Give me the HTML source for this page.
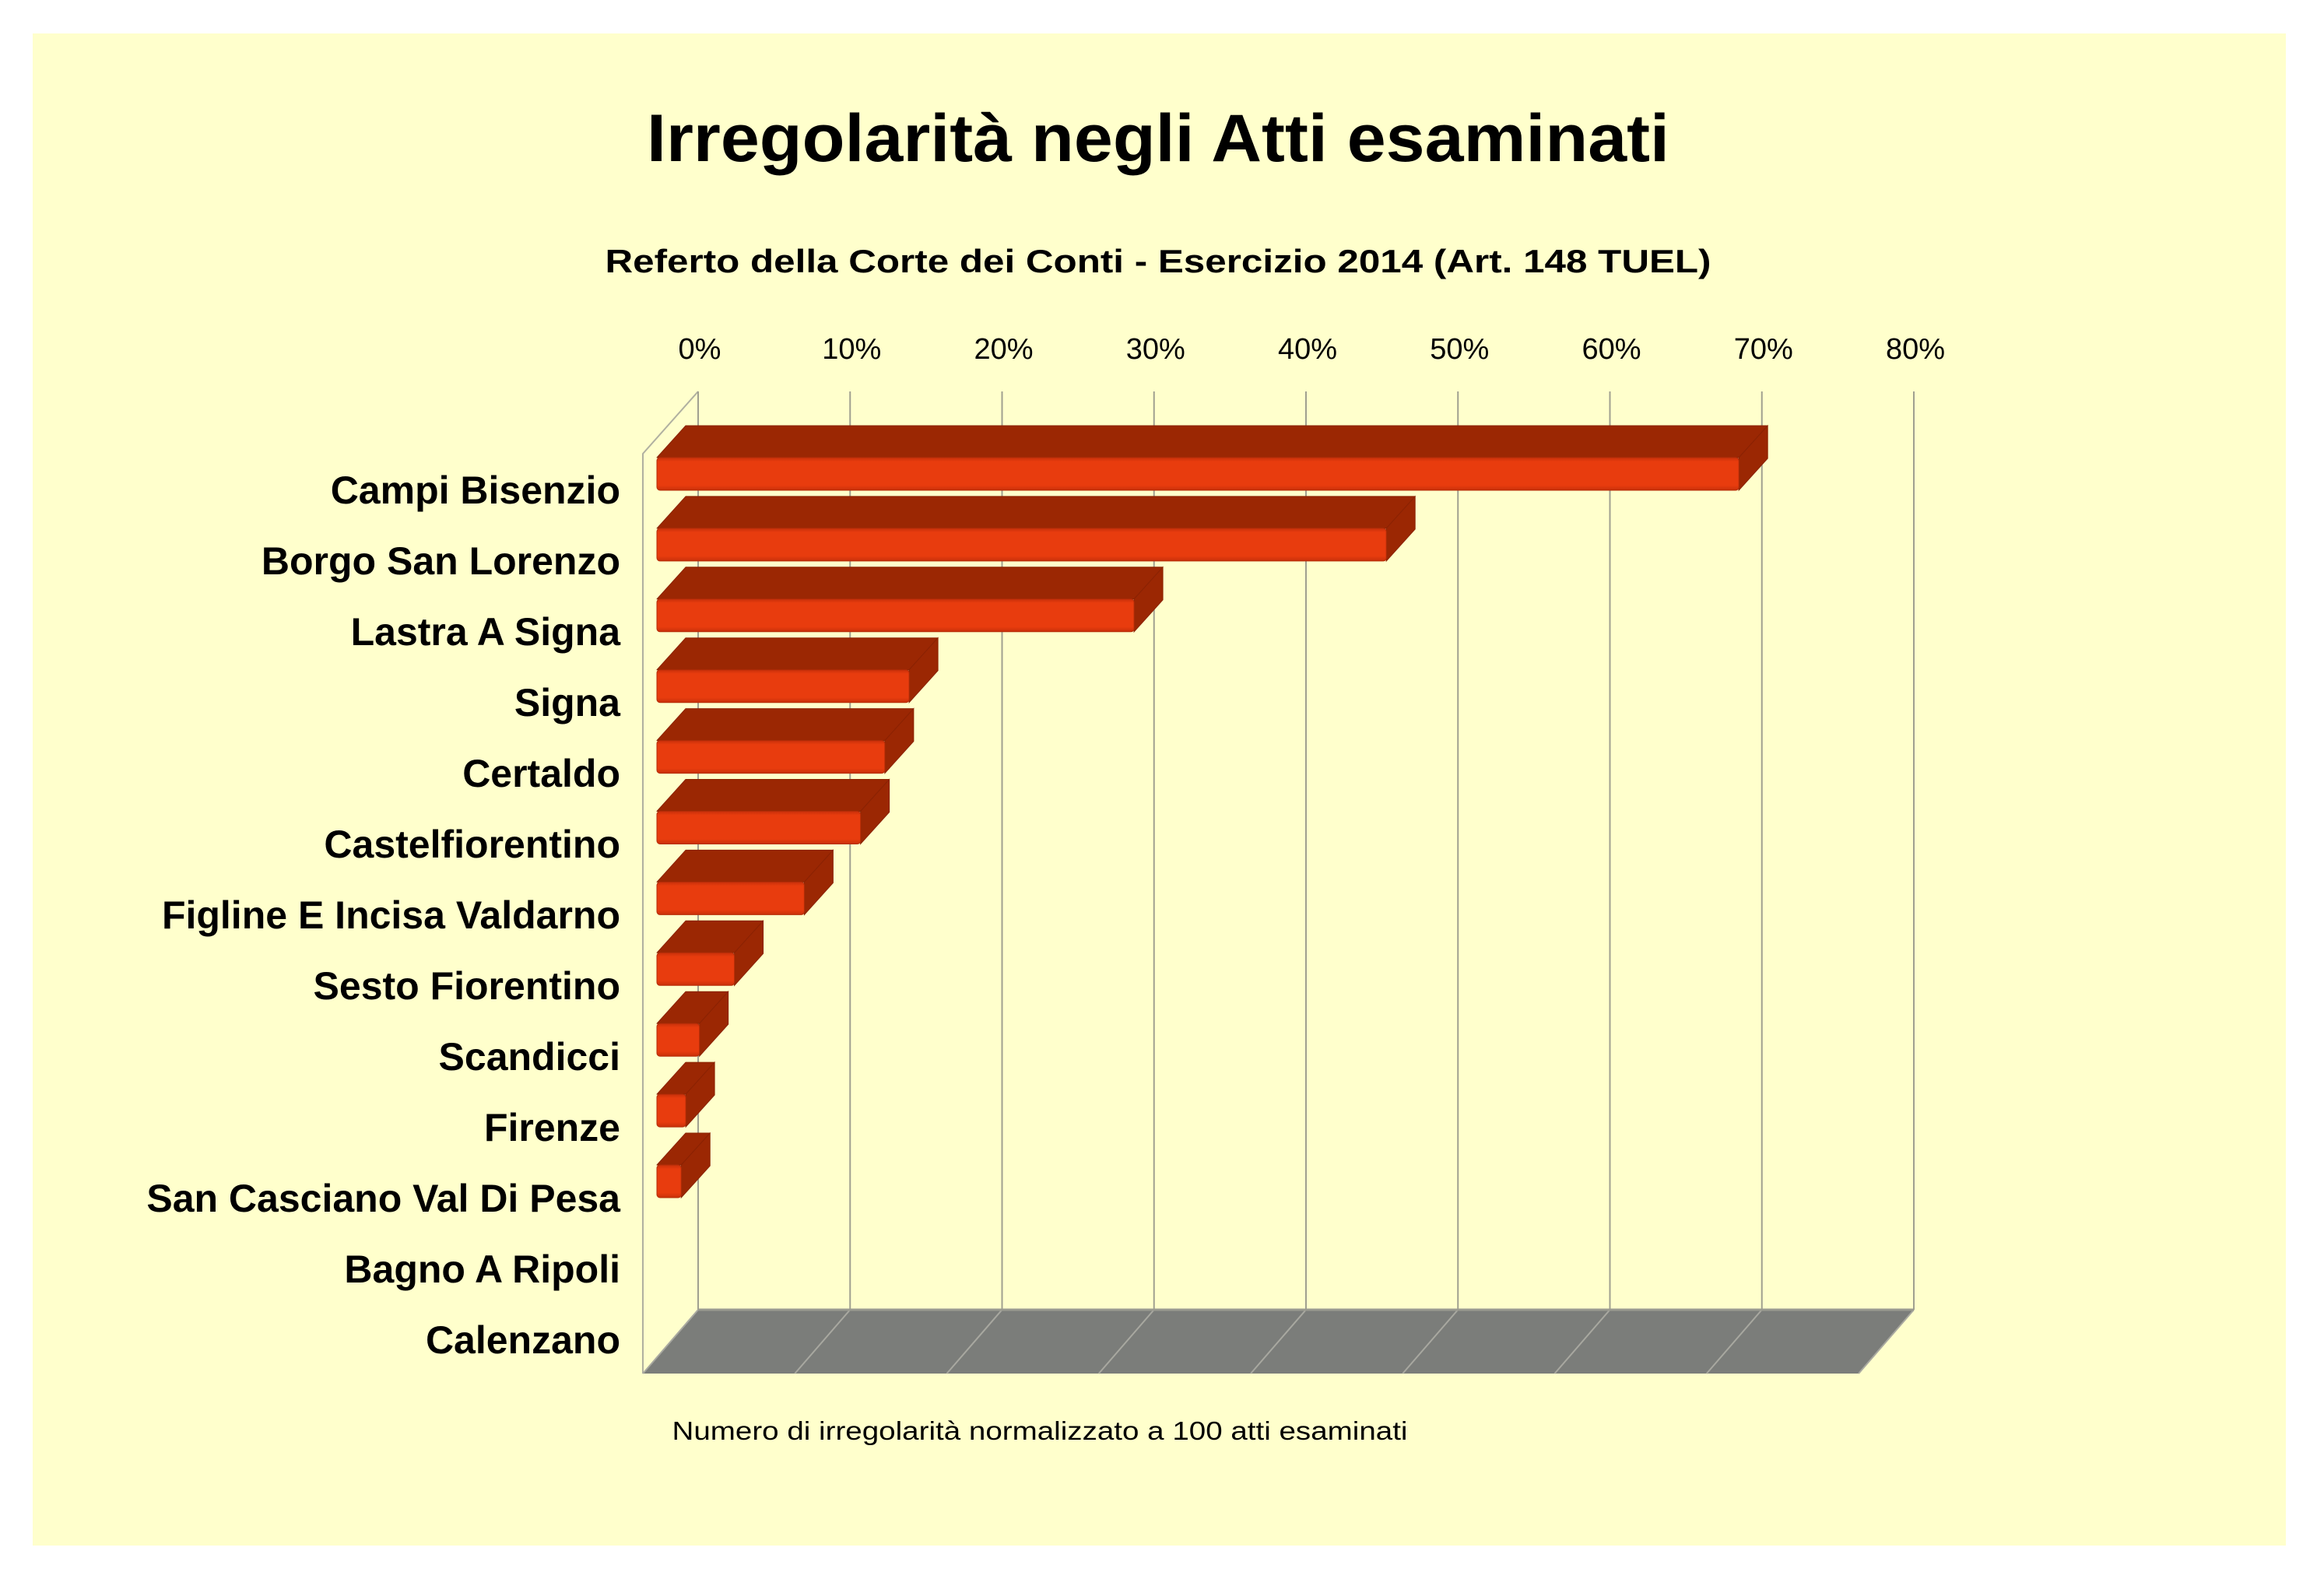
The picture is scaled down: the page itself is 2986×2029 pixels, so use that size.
<!DOCTYPE html>
<html><head><meta charset="utf-8"><style>
html,body{margin:0;padding:0;background:#fff;}
svg{display:block;font-family:"Liberation Sans",sans-serif;}
</style></head><body>
<svg id="chart" width="2986" height="2029" viewBox="0 0 2986 2029" xmlns="http://www.w3.org/2000/svg">
<defs>
<linearGradient id="fg" x1="0" y1="0" x2="0" y2="1">
<stop offset="0" stop-color="#c8300a"/><stop offset="0.12" stop-color="#e83c0e"/><stop offset="0.85" stop-color="#e83c0e"/><stop offset="1" stop-color="#c8300a"/>
</linearGradient>
</defs>
<rect x="42" y="43" width="2895" height="1943" fill="#ffffcc"/>
<text x="1488" y="207" font-size="86" font-weight="bold" text-anchor="middle" textLength="1314" lengthAdjust="spacingAndGlyphs">Irregolarità negli Atti esaminati</text>
<text x="1488" y="350" font-size="42" font-weight="bold" text-anchor="middle" textLength="1421" lengthAdjust="spacingAndGlyphs">Referto della Corte dei Conti - Esercizio 2014 (Art. 148 TUEL)</text>
<text x="1336" y="1850" font-size="33" text-anchor="middle" textLength="945" lengthAdjust="spacingAndGlyphs">Numero di irregolarità normalizzato a 100 atti esaminati</text>
<g id="grid"></g>
<g id="bars"></g>
<g id="labels"></g>
</svg>
<script>
const categories = ["Campi Bisenzio","Borgo San Lorenzo","Lastra A Signa","Signa","Certaldo","Castelfiorentino","Figline E Incisa Valdarno","Sesto Fiorentino","Scandicci","Firenze","San Casciano Val Di Pesa","Bagno A Ripoli","Calenzano"];
const values = [71.2, 48, 31.4, 16.6, 15.0, 13.4, 9.7, 5.1, 2.8, 1.9, 1.6, 0, 0];
const ticks = [0,10,20,30,40,50,60,70,80];
const tickLabels = ["0%","10%","20%","30%","40%","50%","60%","70%","80%"];

const NS = "http://www.w3.org/2000/svg";
const frontX0 = 826, unit = 19.525;
const DX = 71, DY = -82;
const backTop = 503, floorBackY = 1683, floorFrontY = 1765;
const bx = v => frontX0 + v * unit;
const rowTop = i => 588 + i * 90.9;
function mk(tag, attrs, parent){const e=document.createElementNS(NS,tag);for(const k in attrs)e.setAttribute(k,attrs[k]);parent.appendChild(e);return e;}

const grid = document.getElementById('grid');
const floor = mk('polygon',{points:`${bx(0)},${floorFrontY} ${bx(0)+DX},${floorBackY} ${bx(80)+DX},${floorBackY} ${bx(80)},${floorFrontY}`,fill:'#7b7d7a'},grid);


const wl = mk('polyline',{points:`${bx(0)},${floorFrontY} ${bx(0)},583 ${bx(0)+DX},${backTop}`,fill:'none',stroke:'#b0b0a0','stroke-width':2},grid);


ticks.forEach((t,i)=>{
  const x = bx(t)+DX;
  const g = mk('line',{x1:x,y1:backTop,x2:x,y2:floorBackY,stroke:'#a0a090','stroke-width':2},grid);
  
  
  const f = mk('line',{x1:x,y1:floorBackY,x2:bx(t),y2:floorFrontY,stroke:'#a8a8a0','stroke-width':2},grid);
  
  
  const tl = mk('text',{x:x+2,y:461,'font-size':38,'text-anchor':'middle'},grid);
  tl.textContent = tickLabels[i];
  
  
});
mk('line',{x1:bx(0)+DX,y1:floorBackY,x2:bx(80)+DX,y2:floorBackY,stroke:'#9a9a90','stroke-width':3},grid);

const bars = document.getElementById('bars');
const bdx = 37, bdy = -41, off = 18, h = 42;
values.forEach((v,i)=>{
  if(v<=0) return;
  const g = mk('g',{},bars);
  
  
  const x0 = bx(0)+off, x1 = bx(v)+off, y0 = rowTop(i);
  mk('polygon',{points:`${x0},${y0} ${x0+bdx},${y0+bdy} ${x1+bdx},${y0+bdy} ${x1},${y0}`,fill:'#9b2703',stroke:'#8a2203','stroke-width':1,'stroke-linejoin':'round'},g);
  mk('polygon',{points:`${x1},${y0} ${x1+bdx},${y0+bdy} ${x1+bdx},${y0+bdy+h} ${x1},${y0+h}`,fill:'#9b2703',stroke:'#8a2203','stroke-width':1},g);
  mk('rect',{x:x0,y:y0,width:Math.max(x1-x0,1),height:h,rx:4,fill:'url(#fg)',stroke:'#b52d08','stroke-width':1},g);
});

const labels = document.getElementById('labels');
categories.forEach((c,i)=>{
  const t = mk('text',{x:797,y:647+i*91,'font-size':50,'font-weight':'bold','text-anchor':'end'},labels);
  t.textContent = c;
  
  
});
</script>
</body></html>
